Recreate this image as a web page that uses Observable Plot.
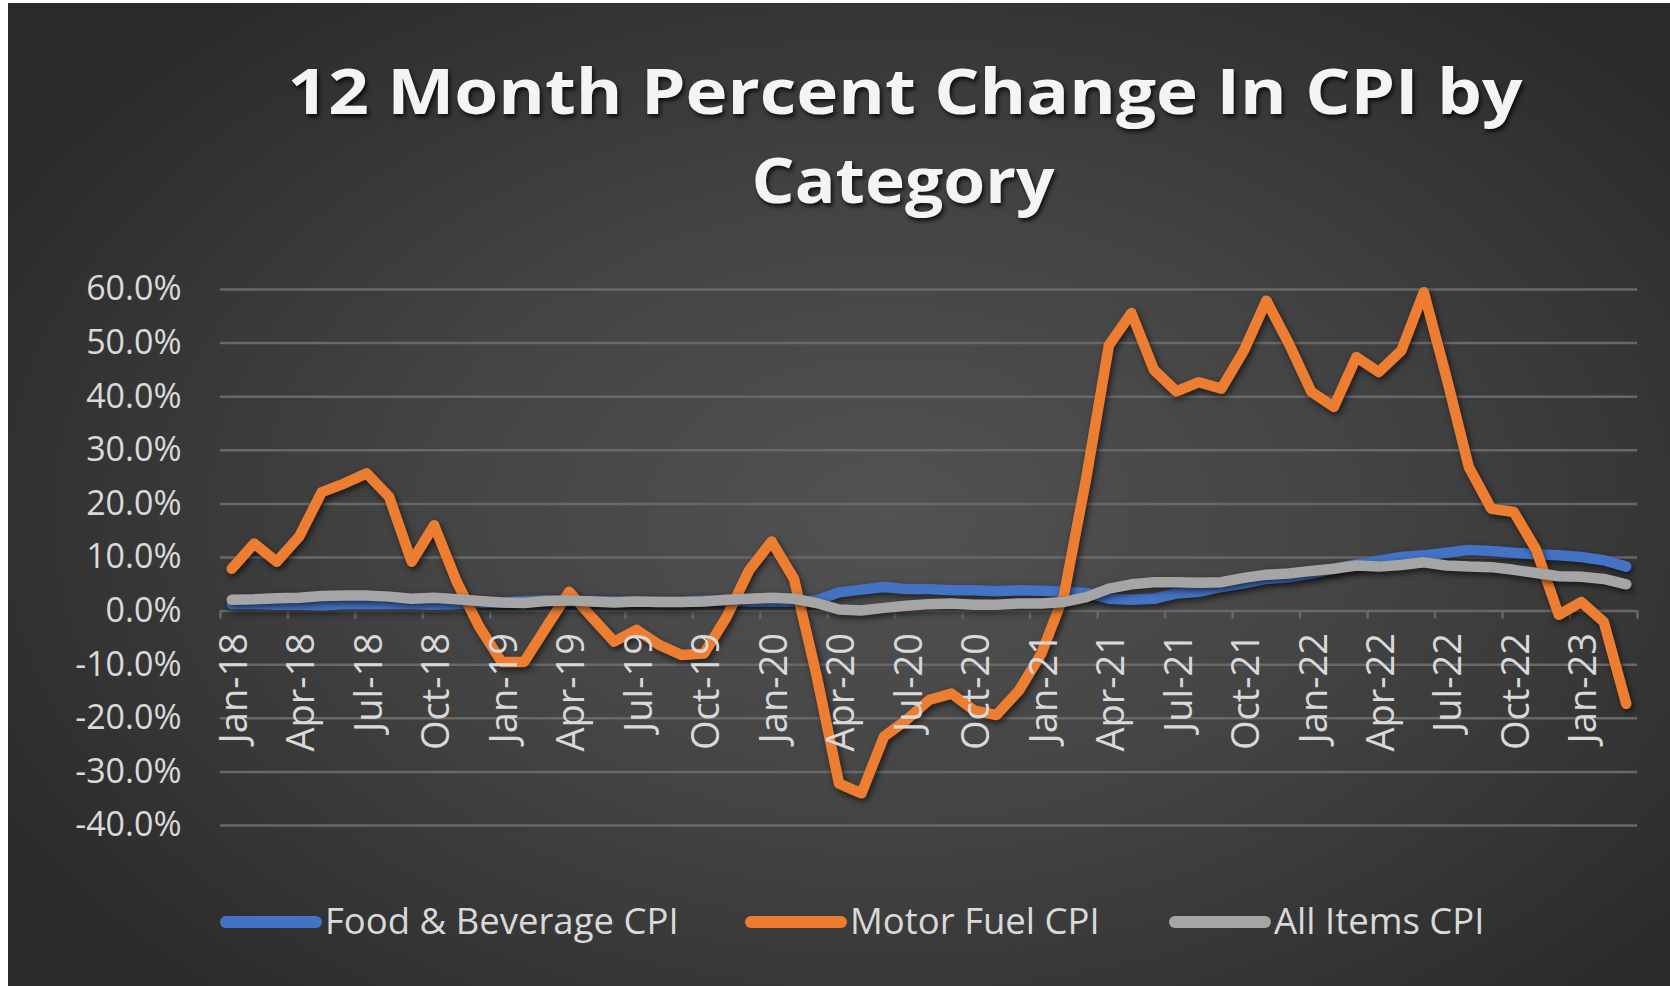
<!DOCTYPE html>
<html>
<head>
<meta charset="utf-8">
<script src="https://cdn.jsdelivr.net/npm/d3@7"></script>
<script src="https://cdn.jsdelivr.net/npm/@observablehq/plot@0.6"></script>
<style>
  html, body { margin: 0; padding: 0; background: #ffffff; width: 1670px; height: 986px; overflow: hidden; }
  #bg { position: absolute; left: 8px; top: 3px; width: 1662px; height: 983px;
        background: radial-gradient(ellipse 62% 68% at 53% 52%, #525252 0%, #444444 45%, #2a2a2a 100%); }
  #title, #chart, #legend { position: absolute; left: 0; }
  #title { top: 0; }
  #title text { filter: drop-shadow(2px 3px 2px rgba(0,0,0,0.75)); }
  #chart { top: 250px; }
  #chart g[aria-label="line"] path { filter: drop-shadow(2px 3px 3px rgba(0,0,0,0.6)); }
  #legend { top: 880px; }
</style>
</head>
<body>
<div id="bg"></div>
<svg id="title" width="1670" height="240"></svg>
<div id="chart"></div>
<svg id="legend" width="1670" height="90"></svg>
<script>
// ---- Data (Jan-18 .. Mar-23, monthly, 12-month % change) ----
const foodBeverage = [
  1.3, 1.3, 1.2, 1.2, 1.1, 1.3, 1.3, 1.3, 1.3, 1.2, 1.3, 1.5,
  1.6, 1.9, 2.0, 1.8, 1.9, 1.8, 1.8, 1.7, 1.7, 2.0, 1.9, 1.8,
  1.8, 1.8, 2.0, 3.5, 4.0, 4.5, 4.1, 4.1, 3.9, 3.9, 3.7, 3.9,
  3.8, 3.6, 3.4, 2.3, 2.1, 2.3, 3.3, 3.6, 4.5, 5.2, 6.0, 6.3,
  7.0, 7.9, 8.7, 9.4, 10.1, 10.4, 10.9, 11.4, 11.2, 10.9, 10.6, 10.4,
  10.1, 9.5, 8.3
];
const motorFuel = [
  7.9, 12.6, 9.2, 13.9, 22.2, 23.8, 25.7, 21.3, 9.2, 16.0, 5.5, -2.9,
  -9.5, -9.5, -2.9, 3.6, -1.1, -5.7, -3.5, -6.3, -8.2, -7.9, -1.1, 7.6,
  13.0, 6.0, -12.0, -32.2, -34.0, -23.4, -20.3, -16.6, -15.4, -18.5, -19.4, -14.8,
  -7.9, 3.0, 25.0, 49.6, 55.6, 45.0, 41.0, 42.7, 41.5, 48.6, 57.9, 49.9,
  40.9, 38.1, 47.4, 44.6, 48.6, 59.5, 43.7, 26.9, 19.1, 18.5, 11.4, -0.7,
  1.7, -2.0, -17.3
];
const allItems = [
  2.1, 2.2, 2.4, 2.5, 2.8, 2.9, 2.9, 2.7, 2.3, 2.5, 2.2, 1.9,
  1.6, 1.5, 1.9, 2.0, 1.8, 1.6, 1.8, 1.7, 1.7, 1.8, 2.1, 2.3,
  2.5, 2.3, 1.5, 0.3, 0.1, 0.6, 1.0, 1.3, 1.4, 1.2, 1.2, 1.4,
  1.4, 1.7, 2.6, 4.2, 5.0, 5.4, 5.4, 5.3, 5.4, 6.2, 6.8, 7.0,
  7.5, 7.9, 8.5, 8.3, 8.6, 9.1, 8.5, 8.3, 8.2, 7.7, 7.1, 6.5,
  6.4, 6.0, 5.0
];
const seriesNames = ["Food & Beverage CPI", "Motor Fuel CPI", "All Items CPI"];
const seriesColors = ["#4472C4", "#ED7D31", "#A5A5A5"];
const tickLabels = ["Jan-18","Apr-18","Jul-18","Oct-18","Jan-19","Apr-19","Jul-19","Oct-19",
  "Jan-20","Apr-20","Jul-20","Oct-20","Jan-21","Apr-21","Jul-21","Oct-21",
  "Jan-22","Apr-22","Jul-22","Oct-22","Jan-23"];
const yTicks = [-40, -30, -20, -10, 0, 10, 20, 30, 40, 50, 60];
const titleLines = ["12 Month Percent Change In CPI by", "Category"];

// month labels for every category
const fmt = d3.utcFormat("%b-%y");
const months = d3.utcMonth.range(new Date(Date.UTC(2018, 0, 1)), new Date(Date.UTC(2023, 3, 1))).map(fmt);

const rows = (vals) => vals.map((v, i) => ({i, v}));
const tickIdx = tickLabels.map(l => months.indexOf(l));
const tickBounds = tickIdx.map(i => i - 0.5).concat([months.length - 0.5]);

const font = "'Open Sans', sans-serif";
const textColor = "#d9d9d9";
const gridColor = "#686868";
const lineW = 10.5;

const chart = Plot.plot({
  width: 1670,
  height: 620,
  marginLeft: 220,
  marginRight: 33,
  marginTop: 39,
  marginBottom: 45,
  x: {type: "linear", domain: [-0.5, months.length - 0.5], axis: null},
  y: {domain: [-40, 60], axis: null},
  style: {background: "transparent", color: textColor, fontFamily: font, overflow: "visible"},
  marks: [
    Plot.ruleY(yTicks, {y: d => d, stroke: gridColor, strokeWidth: 2.5}),
    Plot.ruleX(tickBounds, {x: d => d, y1: () => 0, y2: () => -1.5, stroke: gridColor, strokeWidth: 2.5}),
    Plot.text(yTicks, {y: d => d, frameAnchor: "left", dx: -39, textAnchor: "end",
      text: d => d.toFixed(1) + "%", fontSize: 34, fill: textColor}),
    Plot.line(rows(foodBeverage), {x: "i", y: "v", stroke: seriesColors[0], strokeWidth: lineW,
      strokeLinejoin: "round", strokeLinecap: "round"}),
    Plot.line(rows(motorFuel), {x: "i", y: "v", stroke: seriesColors[1], strokeWidth: lineW,
      strokeLinejoin: "round", strokeLinecap: "round"}),
    Plot.line(rows(allItems), {x: "i", y: "v", stroke: seriesColors[2], strokeWidth: lineW,
      strokeLinejoin: "round", strokeLinecap: "round"}),
    Plot.text(tickLabels, {x: (d, k) => tickIdx[k], y: () => 0, rotate: -90, textAnchor: "end",
      dy: 22, dx: 3, text: d => d, fontSize: 38, fill: textColor})
  ]
});
document.getElementById("chart").appendChild(chart);

// ---- Title ----
const title = d3.select("#title");
title.append("text").attr("x", 905).attr("y", 114).attr("text-anchor", "middle")
  .attr("font-family", font).attr("font-weight", 700).attr("font-size", 62)
  .attr("fill", "#f4f4f4").attr("textLength", 1235).attr("lengthAdjust", "spacingAndGlyphs")
  .text(titleLines[0]);
title.append("text").attr("x", 903).attr("y", 203).attr("text-anchor", "middle")
  .attr("font-family", font).attr("font-weight", 700).attr("font-size", 62)
  .attr("fill", "#f4f4f4").attr("textLength", 303).attr("lengthAdjust", "spacingAndGlyphs")
  .text(titleLines[1]);

// ---- Legend ----
const legend = d3.select("#legend");
const legendX = [220, 745, 1169];
seriesNames.forEach((name, k) => {
  legend.append("line").attr("x1", legendX[k] + 6).attr("x2", legendX[k] + 96)
    .attr("y1", 42).attr("y2", 42).attr("stroke", seriesColors[k])
    .attr("stroke-width", 12).attr("stroke-linecap", "round");
  legend.append("text").attr("x", legendX[k] + 105).attr("y", 54)
    .attr("font-family", font).attr("font-size", 36.5).attr("fill", textColor)
    .text(name);
});
</script>
</body>
</html>
